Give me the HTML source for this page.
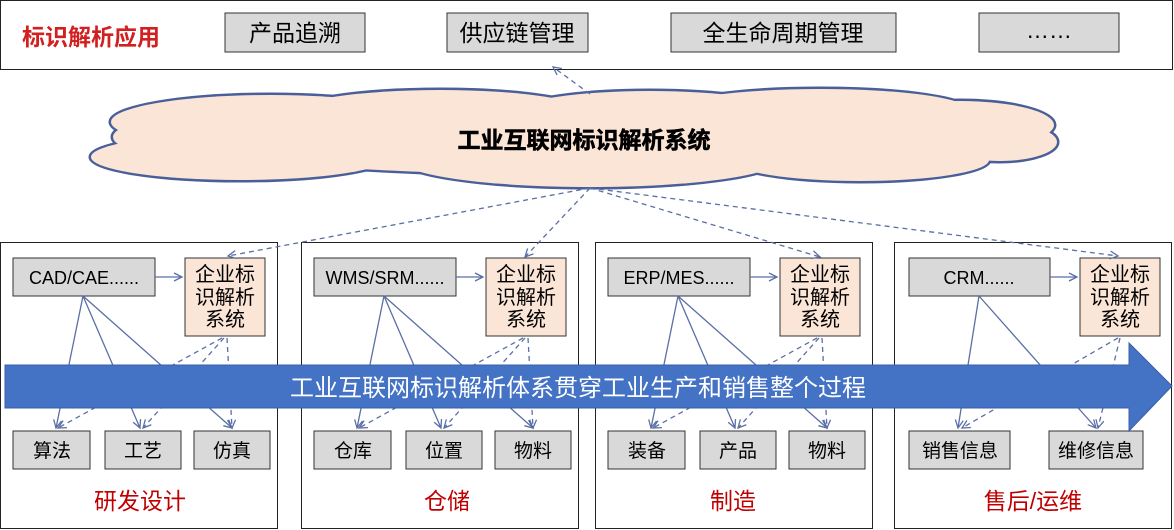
<!DOCTYPE html>
<html><head><meta charset="utf-8"><style>
html,body{margin:0;padding:0;background:#fff;}
svg{display:block;font-family:"Liberation Sans","Noto Sans CJK SC",sans-serif;}
</style></head><body>
<svg width="1174" height="530" viewBox="0 0 1174 530" xmlns="http://www.w3.org/2000/svg">
<defs>
<marker id="a" markerWidth="12" markerHeight="12" refX="9" refY="5" orient="auto" markerUnits="userSpaceOnUse"><path d="M1,1 L9,5 L1,9" fill="none" stroke="#5a6fa5" stroke-width="1.3"/></marker>
<g id="pan">
<rect x="0.5" y="242.5" width="277" height="286" fill="#fff" stroke="#222" stroke-width="1"/>
<rect x="13" y="258" width="142" height="38" fill="#d9d9d9" stroke="#333"/>
<rect x="185" y="258" width="80" height="78" fill="#fbe5d6" stroke="#333"/>
<line x1="155" y1="277" x2="182" y2="277" stroke="#5a6fa5" stroke-width="1.3" marker-end="url(#a)"/>
<g stroke="#5a6fa5" stroke-width="1.3" fill="none">
<line x1="83" y1="296" x2="56" y2="428" marker-end="url(#a)"/>
<line x1="83" y1="296" x2="140" y2="428" marker-end="url(#a)"/>
<line x1="83" y1="296" x2="232" y2="428" marker-end="url(#a)"/>
</g>
<g stroke="#5a6fa5" stroke-width="1.3" fill="none" stroke-dasharray="5,4">
<line x1="222" y1="338" x2="58" y2="428" marker-end="url(#a)"/>
<line x1="224" y1="338" x2="143" y2="428" marker-end="url(#a)"/>
<line x1="227" y1="338" x2="232" y2="428" marker-end="url(#a)"/>
</g>
<rect x="13" y="431" width="77" height="38" fill="#d9d9d9" stroke="#333"/>
<rect x="105" y="431" width="76" height="38" fill="#d9d9d9" stroke="#333"/>
<rect x="194" y="431" width="76" height="38" fill="#d9d9d9" stroke="#333"/>
<text x="225" y="281" font-size="20" text-anchor="middle">企业标</text>
<text x="225" y="304" font-size="20" text-anchor="middle">识解析</text>
<text x="225" y="326" font-size="20" text-anchor="middle">系统</text>
</g>
</defs>
<!-- top -->
<rect x="0.5" y="0.5" width="1172" height="69" fill="#fff" stroke="#222"/>
<text x="22" y="45" font-size="23" font-weight="bold" fill="#d21f1f">标识解析应用</text>
<g fill="#d9d9d9" stroke="#333">
<rect x="225" y="13" width="140" height="39"/><rect x="447" y="13" width="141" height="39"/>
<rect x="671" y="13" width="225" height="39"/><rect x="979" y="13" width="140" height="39"/>
</g>
<g font-size="23" text-anchor="middle">
<text x="295" y="41">产品追溯</text><text x="517" y="41">供应链管理</text>
<text x="783" y="41">全生命周期管理</text><text x="1049" y="38">……</text>
</g>
<!-- cloud -->
<g stroke="#4a5f9a" stroke-width="3" fill="#fbe5d6">
<ellipse cx="200" cy="137" rx="88" ry="22"/><ellipse cx="270" cy="122" rx="160" ry="28"/>
<ellipse cx="240" cy="157" rx="150" ry="24"/><ellipse cx="440" cy="113" rx="150" ry="24"/>
<ellipse cx="590" cy="160" rx="190" ry="28"/><ellipse cx="650" cy="110" rx="130" ry="20"/>
<ellipse cx="820" cy="110" rx="150" ry="22"/><ellipse cx="960" cy="125" rx="95" ry="25"/>
<ellipse cx="1000" cy="142" rx="58" ry="20"/><ellipse cx="860" cy="160" rx="130" ry="22"/>
<ellipse cx="590" cy="138" rx="420" ry="38"/>
</g>
<g fill="#fbe5d6">
<ellipse cx="200" cy="137" rx="87" ry="21"/><ellipse cx="270" cy="122" rx="159" ry="27"/>
<ellipse cx="240" cy="157" rx="149" ry="23"/><ellipse cx="440" cy="113" rx="149" ry="23"/>
<ellipse cx="590" cy="160" rx="189" ry="27"/><ellipse cx="650" cy="110" rx="129" ry="19"/>
<ellipse cx="820" cy="110" rx="149" ry="21"/><ellipse cx="960" cy="125" rx="94" ry="24"/>
<ellipse cx="1000" cy="142" rx="57" ry="19"/><ellipse cx="860" cy="160" rx="129" ry="21"/>
<ellipse cx="590" cy="138" rx="419" ry="37"/>
</g>
<text x="584" y="148" font-size="23" font-weight="bold" text-anchor="middle" stroke="#000" stroke-width="0.6">工业互联网标识解析系统</text>
<!-- panels -->
<use href="#pan"/>
<use href="#pan" transform="translate(301,0)"/>
<use href="#pan" transform="translate(595,0)"/>
<!-- panel 4 -->
<rect x="894.5" y="242.5" width="277" height="286" fill="#fff" stroke="#222"/>
<rect x="909" y="258" width="141" height="38" fill="#d9d9d9" stroke="#333"/>
<rect x="1080" y="258" width="80" height="78" fill="#fbe5d6" stroke="#333"/>
<line x1="1050" y1="277" x2="1077" y2="277" stroke="#5a6fa5" stroke-width="1.3" marker-end="url(#a)"/>
<g stroke="#5a6fa5" stroke-width="1.3" fill="none">
<line x1="979" y1="296" x2="958" y2="428" marker-end="url(#a)"/>
<line x1="979" y1="296" x2="1096" y2="428" marker-end="url(#a)"/>
</g>
<g stroke="#5a6fa5" stroke-width="1.3" fill="none" stroke-dasharray="5,4">
<line x1="1118" y1="338" x2="962" y2="428" marker-end="url(#a)"/>
<line x1="1120" y1="338" x2="1098" y2="428" marker-end="url(#a)"/>
</g>
<rect x="909" y="431" width="101" height="38" fill="#d9d9d9" stroke="#333"/>
<rect x="1049" y="431" width="94" height="38" fill="#d9d9d9" stroke="#333"/>
<text x="1120" y="281" font-size="20" text-anchor="middle">企业标</text>
<text x="1120" y="304" font-size="20" text-anchor="middle">识解析</text>
<text x="1120" y="326" font-size="20" text-anchor="middle">系统</text>
<g font-size="18" text-anchor="middle">
<text x="84" y="284">CAD/CAE......</text><text x="385" y="284">WMS/SRM......</text>
<text x="679" y="284">ERP/MES......</text><text x="979" y="284">CRM......</text>
</g>
<g font-size="19" text-anchor="middle">
<text x="52" y="457">算法</text><text x="143" y="457">工艺</text><text x="232" y="457">仿真</text>
<text x="353" y="457">仓库</text><text x="444" y="457">位置</text><text x="533" y="457">物料</text>
<text x="647" y="457">装备</text><text x="738" y="457">产品</text><text x="827" y="457">物料</text>
<text x="960" y="457">销售信息</text><text x="1096" y="457">维修信息</text>
</g>
<g font-size="23" text-anchor="middle" fill="#c00000">
<text x="140" y="509">研发设计</text><text x="447" y="509">仓储</text>
<text x="733" y="509">制造</text><text x="1033" y="509">售后/运维</text>
</g>
<!-- cloud dashed connectors -->
<g stroke="#5a6fa5" stroke-width="1.3" fill="none" stroke-dasharray="5,4">
<line x1="590" y1="188" x2="228" y2="256" marker-end="url(#a)"/>
<line x1="590" y1="188" x2="525" y2="257" marker-end="url(#a)"/>
<line x1="590" y1="188" x2="820" y2="257" marker-end="url(#a)"/>
<line x1="590" y1="188" x2="1118" y2="256" marker-end="url(#a)"/>
<line x1="590" y1="94" x2="553" y2="67" marker-end="url(#a)"/>
</g>
<!-- big arrow -->
<path d="M5,365 L1129,365 L1129,343 L1172,386 L1129,431 L1129,408 L5,408 Z" fill="#4472c4" stroke="#3a5fa8" stroke-width="1"/>
<text x="578" y="396" font-size="24" fill="#fff" text-anchor="middle">工业互联网标识解析体系贯穿工业生产和销售整个过程</text>
</svg>
</body></html>
